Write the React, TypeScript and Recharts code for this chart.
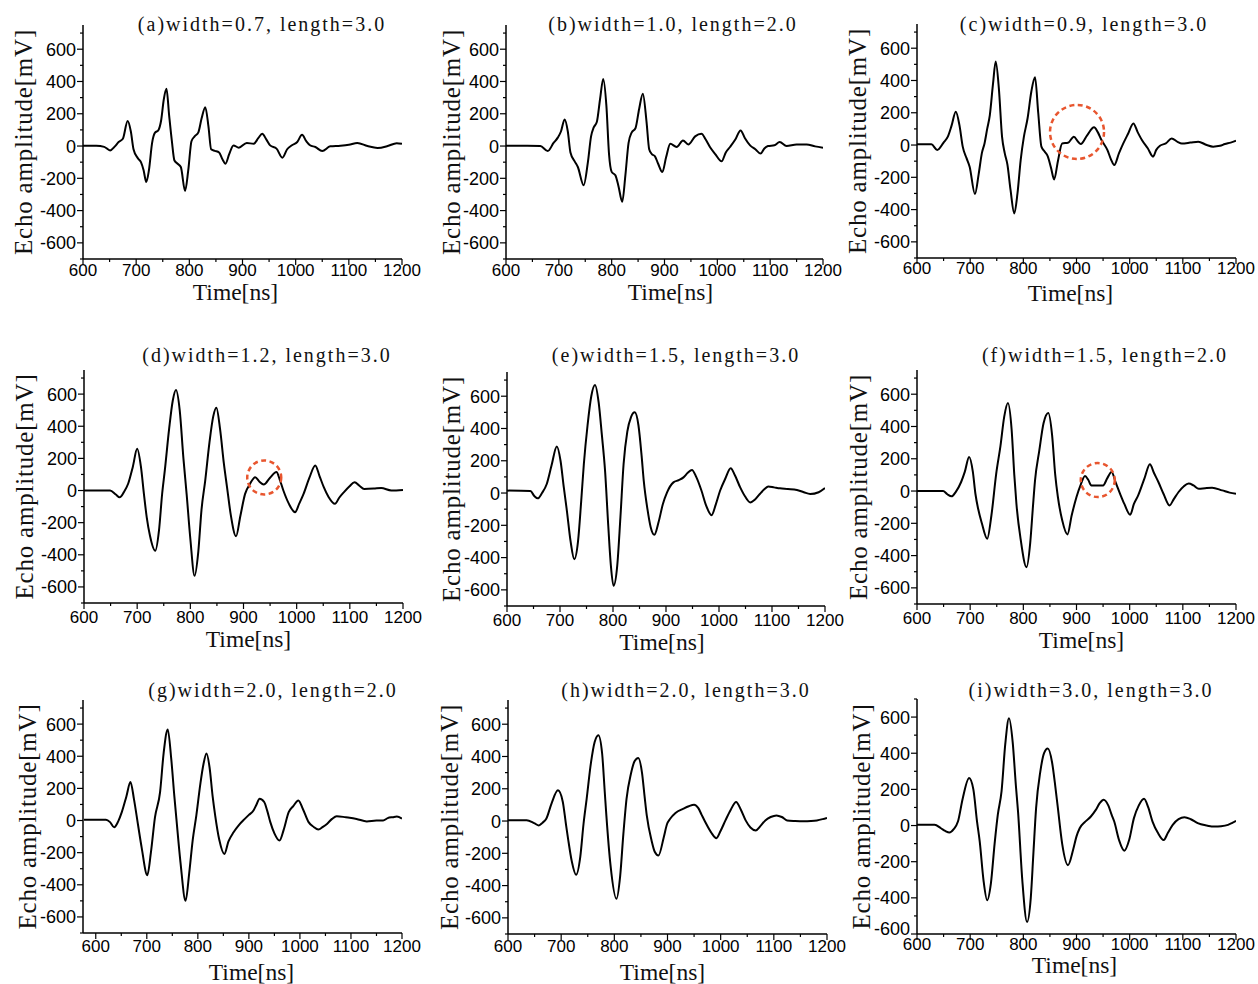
import React from "react";
import { LineChart, Line, XAxis, YAxis, ReferenceDot, Label } from "recharts";

type Pt = [number, number];

// echo waveforms, [time ns, amplitude mV]
const waveA: Pt[] = [
  [600, 2], [625, 2], [640, -5], [651, -27], [660, -2], [667, 25], [675, 45], [684, 155], [690, 90], [695, -20],
  [703, -75], [709, -100], [714, -150], [719, -223], [724, -150], [730, 20], [735, 80], [742, 100], [747, 160], [752, 290],
  [757, 355], [762, 190], [767, 35], [772, -90], [778, -110], [784, -130], [792, -278], [798, -150], [804, 30], [810, 60],
  [817, 85], [823, 170], [830, 241], [836, 120], [841, -20], [848, -30], [856, -40], [862, -80], [868, -109], [875, -50],
  [883, 4], [893, -10], [908, 19], [921, 14], [930, 50], [937, 76], [945, 40], [952, 4], [964, -16], [975, -72],
  [984, -20], [993, 5], [1003, 25], [1012, 70], [1020, 30], [1027, 5], [1037, -6], [1050, -31], [1065, -2], [1084, 2],
  [1100, 8], [1116, 19], [1135, 0], [1154, -12], [1173, 0], [1190, 18], [1200, 14],
];

const waveB: Pt[] = [
  [600, 2], [640, 2], [665, 0], [679, -31], [690, 19], [698, 52], [704, 90], [711, 165], [717, 90], [722, -40],
  [730, -95], [736, -130], [747, -243], [755, -100], [761, 60], [766, 115], [772, 150], [778, 290], [784, 416], [790, 250],
  [795, -50], [800, -160], [807, -181], [813, -250], [820, -346], [826, -180], [832, 20], [838, 85], [845, 110], [852, 230],
  [859, 324], [866, 150], [871, -20], [876, -50], [882, -64], [888, -110], [896, -161], [903, -70], [911, 14], [923, -6],
  [935, 35], [945, 10], [958, 60], [970, 76], [978, 40], [986, -6], [996, -50], [1008, -95], [1016, -40], [1024, -6],
  [1034, 40], [1044, 97], [1052, 50], [1062, 4], [1072, -20], [1082, -47], [1089, -15], [1096, 0], [1108, 5], [1118, 25],
  [1131, 0], [1150, 10], [1169, 10], [1185, -2], [1200, -10],
];

const waveC: Pt[] = [
  [600, 5], [627, 5], [638, -31], [650, 15], [658, 52], [665, 120], [673, 207], [680, 120], [686, -10], [693, -80],
  [699, -134], [709, -304], [716, -180], [722, -50], [727, 10], [732, 100], [737, 186], [743, 380], [748, 517], [754, 350],
  [760, 50], [765, -50], [770, -120], [776, -280], [783, -424], [789, -300], [795, -93], [801, 50], [808, 166], [815, 330],
  [822, 420], [828, 200], [834, -10], [840, -40], [846, -70], [852, -140], [858, -213], [865, -100], [873, 10], [884, 14],
  [895, 52], [903, 20], [908, 6], [920, 60], [933, 110], [940, 80], [947, 31], [958, -30], [965, -90], [971, -124],
  [980, -50], [988, 10], [997, 70], [1007, 134], [1015, 80], [1023, 31], [1034, -20], [1044, -72], [1050, -30], [1057, -4],
  [1068, 10], [1079, 41], [1090, 20], [1098, 10], [1114, 15], [1129, 21], [1145, 0], [1157, -10], [1170, -5], [1179, 6],
  [1190, 15], [1200, 27],
];

const waveD: Pt[] = [
  [600, 0], [649, 0], [660, -25], [667, -42], [675, -10], [683, 42], [692, 150], [700, 260], [707, 150], [713, -30],
  [718, -167], [724, -280], [734, -375], [741, -250], [747, -20], [752, 125], [760, 380], [767, 560], [773, 625], [780, 500],
  [787, 200], [793, -21], [800, -300], [808, -531], [815, -380], [821, -120], [828, 62], [836, 300], [843, 460], [849, 515],
  [856, 380], [863, 170], [869, 21], [876, -150], [886, -285], [894, -160], [903, -21], [912, 40], [922, 83], [930, 55],
  [938, 37], [950, 80], [962, 115], [968, 70], [975, 0], [985, -80], [997, -135], [1005, -80], [1013, -21], [1024, 80],
  [1035, 156], [1043, 90], [1051, 21], [1060, -40], [1072, -83], [1080, -45], [1089, -10], [1099, 25], [1109, 52], [1118, 30],
  [1127, 10], [1145, 12], [1159, 15], [1178, 0], [1200, 4],
];

const waveE: Pt[] = [
  [600, 15], [644, 12], [652, -20], [658, -33], [666, 0], [675, 56], [684, 170], [694, 288], [701, 200], [707, 40],
  [713, -110], [720, -300], [727, -410], [734, -300], [740, -50], [745, 180], [752, 420], [759, 600], [766, 670], [773, 560],
  [779, 360], [785, 139], [791, -200], [796, -450], [801, -575], [808, -450], [814, -150], [820, 180], [827, 380], [834, 470],
  [841, 500], [848, 420], [854, 230], [858, 77], [865, -100], [871, -210], [878, -259], [886, -180], [894, -70], [902, 4],
  [914, 66], [924, 80], [933, 97], [941, 125], [949, 143], [957, 100], [967, 14], [976, -80], [986, -137], [994, -70],
  [1002, 14], [1012, 90], [1022, 153], [1030, 110], [1040, 35], [1049, -20], [1059, -58], [1068, -40], [1077, -6], [1086, 25],
  [1093, 41], [1104, 35], [1115, 29], [1130, 25], [1147, 19], [1160, 5], [1172, -6], [1188, 5], [1200, 31],
];

const waveF: Pt[] = [
  [600, 0], [649, 0], [657, -20], [665, -33], [673, -5], [683, 56], [690, 120], [698, 211], [705, 120], [710, -20],
  [715, -110], [722, -200], [732, -296], [740, -150], [749, 108], [757, 280], [764, 460], [771, 546], [778, 380], [783, 100],
  [787, -79], [795, -300], [806, -472], [813, -320], [818, -100], [822, 66], [830, 250], [838, 420], [847, 484], [854, 350],
  [860, 100], [865, -37], [873, -180], [883, -269], [891, -150], [900, -37], [908, 40], [916, 93], [922, 70], [928, 35],
  [940, 35], [950, 35], [958, 80], [966, 118], [974, 50], [982, -17], [990, -80], [1001, -147], [1008, -80], [1016, -27],
  [1028, 80], [1038, 166], [1046, 110], [1054, 56], [1064, -20], [1075, -89], [1083, -50], [1092, -6], [1102, 30], [1111, 46],
  [1120, 35], [1130, 14], [1142, 18], [1155, 21], [1174, 4], [1188, -10], [1200, -17],
];

const waveG: Pt[] = [
  [577, 5], [620, 5], [628, -10], [636, -42], [644, -5], [651, 52], [660, 150], [668, 240], [675, 130], [683, -31],
  [690, -170], [701, -340], [708, -200], [716, 20], [726, 177], [733, 420], [741, 567], [748, 380], [754, 150], [758, 10],
  [766, -260], [776, -500], [783, -330], [790, -120], [797, 31], [805, 230], [811, 350], [817, 417], [823, 330], [829, 150],
  [834, 31], [842, -120], [852, -208], [860, -130], [870, -73], [880, -30], [892, 10], [900, 35], [909, 62], [915, 100],
  [921, 135], [930, 115], [936, 60], [942, -10], [950, -80], [960, -125], [968, -60], [978, 52], [987, 90], [997, 125],
  [1006, 70], [1017, -10], [1027, -40], [1036, -56], [1045, -40], [1053, -21], [1063, 10], [1072, 27], [1090, 20], [1111, 10],
  [1131, -6], [1150, 0], [1163, 0], [1172, 15], [1182, 21], [1190, 25], [1200, 12],
];

const waveH: Pt[] = [
  [600, 5], [635, 5], [650, -15], [658, -27], [665, -10], [672, 14], [682, 110], [694, 190], [703, 120], [709, -20],
  [713, -110], [720, -250], [728, -333], [736, -220], [742, -20], [748, 139], [756, 360], [763, 490], [770, 532], [777, 420],
  [782, 180], [785, 35], [793, -280], [804, -482], [811, -340], [817, -80], [823, 139], [831, 290], [838, 370], [845, 391],
  [852, 300], [857, 150], [861, 35], [870, -120], [876, -190], [883, -213], [893, -100], [899, -20], [905, 14], [915, 50],
  [930, 77], [940, 92], [950, 101], [958, 80], [964, 40], [971, -6], [982, -70], [992, -106], [1000, -60], [1009, 4],
  [1019, 70], [1029, 118], [1038, 70], [1047, 4], [1056, -40], [1066, -58], [1075, -30], [1084, 4], [1094, 25], [1105, 35],
  [1115, 25], [1125, 4], [1140, 0], [1156, -2], [1170, 0], [1181, 4], [1192, 12], [1200, 19],
];

const waveI: Pt[] = [
  [600, 5], [633, 5], [645, -15], [653, -30], [661, -39], [669, -20], [677, 22], [686, 150], [698, 263], [706, 200],
  [713, 20], [718, -89], [725, -300], [732, -413], [739, -320], [746, -100], [752, 60], [759, 189], [766, 450], [773, 593],
  [780, 460], [786, 220], [790, 78], [798, -300], [807, -533], [814, -400], [819, -150], [824, 96], [832, 300], [839, 400],
  [846, 426], [854, 350], [860, 220], [865, 96], [873, -100], [884, -219], [894, -130], [900, -60], [906, -15], [916, 20],
  [927, 50], [936, 85], [944, 125], [951, 143], [960, 110], [966, 60], [971, 22], [980, -80], [990, -139], [999, -80],
  [1008, 41], [1017, 110], [1027, 148], [1035, 100], [1043, 22], [1053, -40], [1064, -80], [1072, -40], [1081, 4], [1092, 35],
  [1103, 46], [1115, 35], [1128, 13], [1145, 0], [1160, -6], [1172, -4], [1185, 4], [1193, 15], [1200, 26],
];

const waves = [waveA, waveB, waveC, waveD, waveE, waveF, waveG, waveH, waveI];

const titles = [
  "(a)width=0.7, length=3.0",
  "(b)width=1.0, length=2.0",
  "(c)width=0.9, length=3.0",
  "(d)width=1.2, length=3.0",
  "(e)width=1.5, length=3.0",
  "(f)width=1.5, length=2.0",
  "(g)width=2.0, length=2.0",
  "(h)width=2.0, length=3.0",
  "(i)width=3.0, length=3.0",
];

// double-peak regions circled in (c), (d), (f): [time, amplitude]
const marked: (Pt | null)[] = [null, null, [901, 81], [939, 81], null, [940, 68], null, null, null];

const xTicks = [600, 650, 700, 750, 800, 850, 900, 950, 1000, 1050, 1100, 1150, 1200];
const yTicksFull = [-700, -600, -500, -400, -300, -200, -100, 0, 100, 200, 300, 400, 500, 600, 700];
const yTicksShort = [-600, -500, -400, -300, -200, -100, 0, 100, 200, 300, 400, 500, 600, 700];

// plot box of each panel in page pixels, axis ranges and label placement
// xl: tick label baseline below axis, tl: "Time[ns]" baseline below axis,
// tdx: its shift from plot centre, yt: distance of the amplitude title from the axis
const frames = [
  { left: 83, right: 402, top: 25, bottom: 259, xMin: 600, yMin: -700, yMax: 750, tx: 262, ty: 24, r: 0, xl: 17, tl: 41, tdx: -7, yt: 60 },
  { left: 506, right: 823, top: 25, bottom: 259, xMin: 600, yMin: -700, yMax: 750, tx: 673, ty: 24, r: 0, xl: 17, tl: 41, tdx: 6, yt: 55 },
  { left: 917, right: 1236, top: 24, bottom: 258, xMin: 600, yMin: -700, yMax: 750, tx: 1084, ty: 24, r: 27, xl: 16, tl: 43, tdx: -6, yt: 60 },
  { left: 84, right: 403, top: 370, bottom: 603, xMin: 600, yMin: -700, yMax: 750, tx: 267, ty: 355, r: 17, xl: 20, tl: 44, tdx: 5, yt: 60 },
  { left: 507, right: 825, top: 372, bottom: 606, xMin: 600, yMin: -700, yMax: 750, tx: 676, ty: 355, r: 0, xl: 20, tl: 44, tdx: -4, yt: 56 },
  { left: 917, right: 1236, top: 370, bottom: 604, xMin: 600, yMin: -700, yMax: 750, tx: 1105, ty: 355, r: 17, xl: 20, tl: 44, tdx: 5, yt: 59 },
  { left: 83, right: 402, top: 700, bottom: 933, xMin: 575, yMin: -700, yMax: 750, tx: 273, ty: 690, r: 0, xl: 19, tl: 47, tdx: 9, yt: 56 },
  { left: 508, right: 827, top: 700, bottom: 934, xMin: 600, yMin: -700, yMax: 750, tx: 686, ty: 690, r: 0, xl: 18, tl: 46, tdx: -5, yt: 59 },
  { left: 917, right: 1236, top: 699, bottom: 934, xMin: 600, yMin: -600, yMax: 700, tx: 1091, ty: 690, r: 0, xl: 16, tl: 39, tdx: -2, yt: 56 },
];

const SANS = "'Liberation Sans', Arial, sans-serif";
const SERIF = "'Liberation Serif', 'Times New Roman', serif";
const YW = 80;
const XH = 62;
const MT = 5;
const MR = 20;

// a label sitting on the domain floor is lifted so it clears the time labels
const makeYTick = (floor: number) => (props: any) => {
  const { x, y, payload } = props;
  const v = payload.value;
  const major = v % 200 === 0;
  const lift = v === floor && floor === -600 ? -5 : 0;
  return (
    <g>
      <line x1={x} x2={x - (major ? 6 : 3)} y1={y} y2={y} stroke="#000" strokeWidth={1.2} />
      {major && (
        <text x={x - 7} y={y + lift} dy="0.36em" textAnchor="end" fontSize={18} fontFamily={SANS} fill="#000">
          {v}
        </text>
      )}
    </g>
  );
};

const makeXTick = (offset: number) => (props: any) => {
  const { x, y, payload } = props;
  const v = payload.value;
  const major = v % 100 === 0;
  return (
    <g>
      <line x1={x} x2={x} y1={y} y2={y + (major ? 6 : 3)} stroke="#000" strokeWidth={1.2} />
      {major && (
        <text x={x} y={y + offset} textAnchor="middle" fontSize={17} fontFamily={SANS} fill="#000">
          {v}
        </text>
      )}
    </g>
  );
};

function Panel({ idx }: { idx: number }) {
  const f = frames[idx];
  const data = waves[idx].map(([t, v]) => ({ t, v }));
  const mark = marked[idx];
  const w = f.right - f.left + YW + MR;
  const h = f.bottom - f.top + MT + XH;
  const XTick = makeXTick(f.xl);
  const YTick = makeYTick(f.yMin);
  return (
    <>
      <div
        style={{
          position: "absolute",
          left: f.tx,
          top: f.ty,
          transform: "translate(-50%, -50%)",
          whiteSpace: "nowrap",
          fontFamily: SERIF,
          fontSize: 20,
          letterSpacing: 2,
          lineHeight: 1,
          color: "#111",
        }}
      >
        {titles[idx]}
      </div>
      <div style={{ position: "absolute", left: f.left - YW, top: f.top - MT }}>
        <LineChart width={w} height={h} data={data} margin={{ top: MT, right: MR, left: 0, bottom: 0 }}>
          <XAxis
            dataKey="t"
            type="number"
            domain={[f.xMin, 1200]}
            ticks={xTicks}
            interval={0}
            allowDataOverflow
            height={XH}
            tickSize={0}
            tickMargin={0}
            tickLine={false}
            axisLine={{ stroke: "#000", strokeWidth: 1.5 }}
            tick={XTick}
          >
            <Label
              value="Time[ns]"
              position="insideBottom"
              offset={XH - f.tl}
              dx={f.tdx}
              fontSize={23.5}
              fontFamily={SERIF}
              fill="#111"
            />
          </XAxis>
          <YAxis
            type="number"
            domain={[f.yMin, f.yMax]}
            ticks={f.yMin === -600 ? yTicksShort : yTicksFull}
            interval={0}
            allowDataOverflow
            width={YW}
            tickSize={0}
            tickMargin={0}
            tickLine={false}
            axisLine={{ stroke: "#000", strokeWidth: 1.5 }}
            tick={YTick}
          >
            <Label
              value="Echo amplitude[mV]"
              angle={-90}
              position="insideLeft"
              offset={YW - f.yt}
              fontSize={25}
              fontFamily={SERIF}
              fill="#111"
              style={{ textAnchor: "middle", letterSpacing: "0.8px" }}
            />
          </YAxis>
          <Line
            dataKey="v"
            type="monotone"
            stroke="#000"
            strokeWidth={2}
            dot={false}
            isAnimationActive={false}
          />
          {mark && (
            <ReferenceDot
              x={mark[0]}
              y={mark[1]}
              r={f.r}
              fill="none"
              stroke="#E8562F"
              strokeWidth={2.5}
              strokeDasharray="5 3.5"
            />
          )}
        </LineChart>
      </div>
    </>
  );
}

export default function App() {
  return (
    <div
      style={{
        position: "absolute",
        left: 0,
        top: 0,
        width: 1258,
        height: 984,
        background: "#fff",
        overflow: "hidden",
      }}
    >
      {frames.map((_, i) => (
        <Panel key={i} idx={i} />
      ))}
    </div>
  );
}
